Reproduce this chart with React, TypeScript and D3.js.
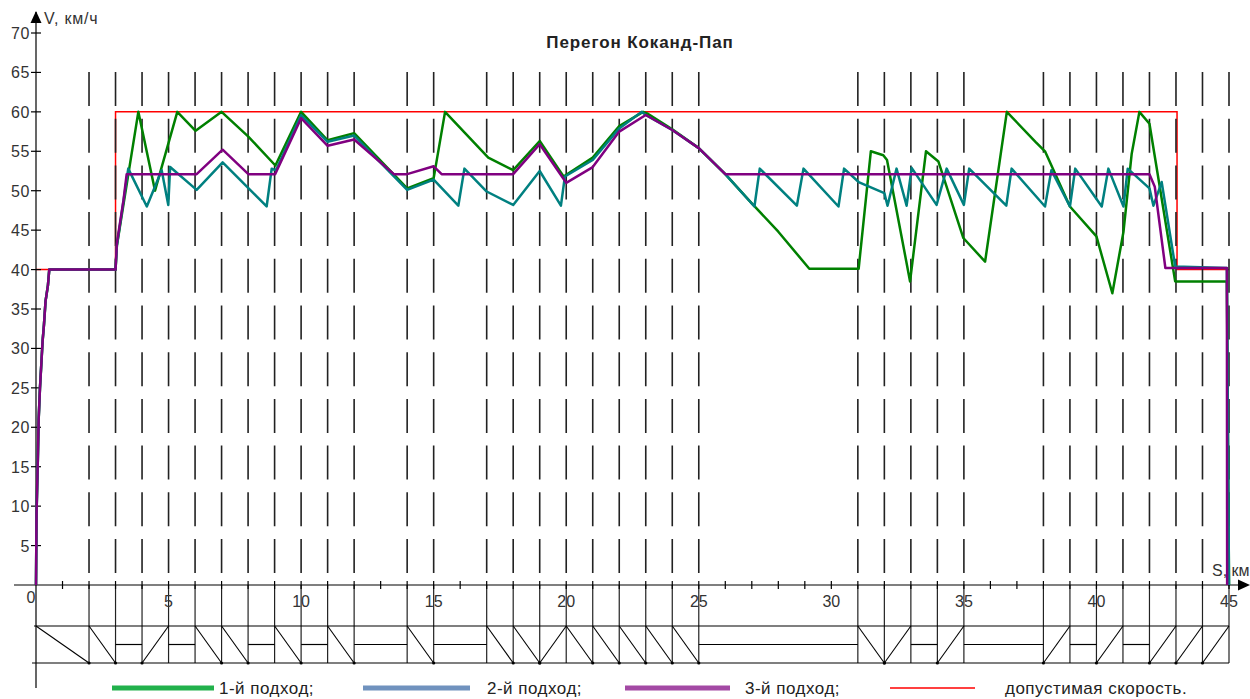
import React from 'react';
import * as d3 from 'd3';

const W = 1250;
const H = 699;
const FONT = '"Liberation Sans", Arial, sans-serif';

// границы блок-участков (км)
const signalKm = [2, 3, 4, 5, 6, 7, 8, 9, 10, 11, 12, 14, 15, 17, 18, 19, 20, 21, 22, 23, 24, 25,
  31, 32, 33, 34, 35, 38, 39, 40, 41, 42, 43, 44, 45];

// профиль пути: от, до, тип (down / up / flat)
const profile: [number, number, string][] = [
  [0, 2, 'down'], [2, 3, 'down'], [3, 4, 'flat'], [4, 5, 'up'], [5, 6, 'flat'], [6, 7, 'down'],
  [7, 8, 'down'], [8, 9, 'flat'], [9, 10, 'down'], [10, 11, 'flat'], [11, 12, 'down'], [12, 14, 'flat'],
  [14, 15, 'down'], [15, 17, 'flat'], [17, 18, 'down'], [18, 19, 'down'], [19, 20, 'up'], [20, 21, 'down'],
  [21, 22, 'down'], [22, 23, 'down'], [23, 24, 'down'], [24, 25, 'down'], [25, 31, 'flat'], [31, 32, 'down'],
  [32, 33, 'up'], [33, 34, 'flat'], [34, 35, 'up'], [35, 38, 'flat'], [38, 39, 'up'], [39, 40, 'flat'],
  [40, 41, 'up'], [41, 42, 'flat'], [42, 43, 'up'], [43, 44, 'up'], [44, 45, 'up'],
];

const speedLimit: [number, number][] = [
  [0, 40], [3, 40], [3, 60], [43.04, 60], [43.04, 40], [45, 40],
];

const approach1: [number, number][] = [
  [0, 0], [0.02, 9], [0.07, 16], [0.1, 21], [0.15, 25], [0.2, 28], [0.25, 31], [0.3, 33], [0.36, 36],
  [0.45, 38], [0.5, 40], [3.0, 40], [3.05, 43], [3.86, 60], [4.49, 50], [5.33, 60], [6.02, 57.6],
  [7.0, 60], [8.0, 56.9], [9.03, 53.2], [10.0, 60], [11.0, 56.4], [12.0, 57.3], [14.0, 50.3],
  [15.0, 51.6], [15.43, 60], [17.06, 54.2], [18.0, 52.6], [19.0, 56.3], [19.9, 51.8], [21.0, 54.2],
  [22.0, 58.2], [22.9, 60], [23.05, 59.8], [24.0, 57.8], [25.0, 55.4], [26.0, 52.1], [27.0, 48.4],
  [28.0, 44.8], [29.17, 40.1], [31.03, 40.1], [31.49, 55], [31.96, 54.5], [32.1, 53.9], [32.97, 38.5],
  [33.57, 55], [34.04, 53.7], [34.98, 44], [35.8, 41], [36.62, 60], [37.7, 56.2], [38.06, 55],
  [39.0, 48], [40.0, 44.2], [40.6, 37], [41.02, 44.8], [41.33, 54.7], [41.62, 60], [42.0, 58.5],
  [42.97, 38.5], [44.92, 38.5], [45.0, 0],
];

const approach2: [number, number][] = [
  [0, 0], [0.02, 9], [0.07, 16], [0.1, 21], [0.15, 25], [0.2, 28], [0.25, 31], [0.3, 33], [0.36, 36],
  [0.45, 38], [0.5, 40], [3.0, 40], [3.05, 43], [3.48, 52.8], [4.18, 48.0], [4.74, 52.6], [4.99, 48.2],
  [5.06, 53.0], [6.06, 50.1], [7.04, 53.6], [8.7, 48.0], [8.89, 52.8], [9.05, 52.6], [10.0, 59.6],
  [11.0, 56.2], [12.0, 57.0], [14.0, 50.1], [15.0, 51.4], [15.93, 48.1], [16.16, 52.8], [17.0, 49.9],
  [18.0, 48.2], [19.0, 52.5], [19.8, 48.1], [19.95, 51.8], [21.0, 53.9], [22.0, 57.9], [22.85, 60.0],
  [23.0, 59.6], [24.0, 57.7], [25.0, 55.4], [26.0, 52.1], [27.1, 48.0], [27.3, 52.8], [28.7, 48.1],
  [28.95, 52.8], [30.27, 48.0], [30.48, 52.8], [31.03, 51.1], [32.0, 49.7], [32.12, 48.1], [32.46, 52.8],
  [32.84, 48.1], [33.03, 52.9], [33.97, 48.2], [34.35, 52.8], [35.0, 48.2], [35.2, 52.8], [36.6, 48.1],
  [36.8, 52.8], [38.06, 48.0], [38.3, 52.6], [39.0, 48.0], [39.2, 52.8], [40.2, 48.0], [40.45, 52.8],
  [41.02, 48.0], [41.18, 52.8], [42.0, 50.3], [42.15, 48.1], [42.46, 51.1], [42.97, 40.4],
  [44.92, 40.2], [45.0, 0],
];

const approach3: [number, number][] = [
  [0, 0], [0.02, 9], [0.07, 16], [0.1, 21], [0.15, 25], [0.2, 28], [0.25, 31], [0.3, 33], [0.36, 36],
  [0.45, 38], [0.5, 40], [3.0, 40], [3.05, 43.3], [3.3, 48.8], [3.42, 52.1], [6.06, 52.1], [7.04, 55.2],
  [8.01, 52.1], [9.02, 52.1], [10.0, 59.2], [11.0, 55.7], [12.0, 56.5], [13.5, 52.1], [14.0, 52.1],
  [15.0, 53.1], [15.3, 52.1], [18.0, 52.1], [19.0, 55.9], [20.0, 51.0], [21.0, 53.0], [22.0, 57.5],
  [23.0, 59.6], [24.0, 57.7], [25.0, 55.4], [26.0, 52.1], [42.0, 52.1], [42.2, 50.5], [42.6, 40.2],
  [44.92, 40.2], [44.93, 0],
];

const yTicks = d3.range(5, 75, 5);
const xLabels = d3.range(0, 50, 5);
const kmTicks = d3.range(1, 46);

const legendItems = [
  { label: '1-й подход;', color: '#22b14c', width: 5, x0: 112, x1: 214, tx: 219 },
  { label: '2-й подход;', color: '#7092be', width: 5, x0: 363, x1: 470, tx: 487 },
  { label: '3-й подход;', color: '#a349a4', width: 5, x0: 625, x1: 730, tx: 745 },
  { label: 'допустимая скорость.', color: '#ff0000', width: 1.5, x0: 890, x1: 975, tx: 1005 },
];

export default function App() {
  const x = d3.scaleLinear().domain([0, 45]).range([36, 1229]);
  const y = d3.scaleLinear().domain([0, 70]).range([585, 33]);
  const line = d3.line<[number, number]>().x(d => x(d[0])).y(d => y(d[1]));

  const axisY = y(0);
  const stripTop = 626;
  const stripBot = 663;
  const stripMid = (stripTop + stripBot) / 2;

  return (
    <svg width={W} height={H} style={{ position: 'absolute', left: 0, top: 0, background: '#fff' }}
      fontFamily={FONT}>
      <rect width={W} height={H} fill="#fff" />

      {/* title */}
      <text x={640} y={48} textAnchor="middle" fontSize={17} fontWeight="bold" letterSpacing={0.9} fill="#222">
        Перегон Коканд-Пап
      </text>

      {/* speed limit */}
      <path d={line(speedLimit) ?? ''} fill="none" stroke="#ff0000" strokeWidth={1.5} />

      {/* block sections */}
      {signalKm.map(k => (
        <g key={k}>
          <line x1={x(k)} x2={x(k)} y1={72} y2={axisY} stroke="#222" strokeWidth={1.6}
            strokeDasharray="34,12.7" />
          <line x1={x(k)} x2={x(k)} y1={axisY} y2={stripBot} stroke="#222" strokeWidth={1.2} />
        </g>
      ))}

      {/* axes */}
      <line x1={36} x2={36} y1={12} y2={688} stroke="#000" strokeWidth={1.2} />
      <path d="M36,11 L30.5,23 L41.5,23 Z" fill="#000" />
      <text x={44} y={24} fontSize={16} letterSpacing={0.8} fill="#333">V, км/ч</text>
      <line x1={14} x2={1240} y1={axisY} y2={axisY} stroke="#000" strokeWidth={1.2} />
      <path d="M1250,585 L1238,579.5 L1238,590.5 Z" fill="#000" />
      <text x={1212} y={576} fontSize={16} fill="#333">S, км</text>

      {yTicks.map(t => (
        <g key={t}>
          <line x1={31} x2={41} y1={y(t)} y2={y(t)} stroke="#000" strokeWidth={1.2} />
          <text x={30} y={y(t) + 6} textAnchor="end" fontSize={16} letterSpacing={0.6} fill="#333">{t}</text>
        </g>
      ))}
      {kmTicks.map(k => (
        <line key={k} x1={x(k)} x2={x(k)} y1={axisY - 4} y2={axisY + 4} stroke="#000" strokeWidth={1.2} />
      ))}
      {xLabels.map(k => (
        <text key={k} x={k === 0 ? x(k) - 5 : x(k)} y={k === 0 ? 603 : 607} textAnchor="middle"
          fontSize={16} fill="#333">{k}</text>
      ))}

      {/* track profile */}
      <line x1={34} x2={x(45)} y1={stripTop} y2={stripTop} stroke="#000" strokeWidth={1.2} />
      <line x1={32} x2={x(45)} y1={stripBot} y2={stripBot} stroke="#000" strokeWidth={1.2} />
      {profile.map(([a, b, kind]) => {
        const xa = x(a);
        const xb = x(b);
        if (kind === 'flat') {
          return <line key={a} x1={xa} x2={xb} y1={stripMid} y2={stripMid} stroke="#000" strokeWidth={1.2} />;
        }
        const yA = kind === 'down' ? stripTop : stripBot;
        const yB = kind === 'down' ? stripBot : stripTop;
        return (
          <g key={a}>
            <line x1={xa} x2={xb} y1={yA} y2={yB} stroke="#000" strokeWidth={1.1} />
            <circle cx={kind === 'down' ? xb : xa} cy={stripBot} r={1.6} fill="#000" />
          </g>
        );
      })}

      {/* speed curves */}
      <path d={line(approach1) ?? ''} fill="none" stroke="#008000" strokeWidth={2.5} strokeLinejoin="round" />
      <path d={line(approach2) ?? ''} fill="none" stroke="#008080" strokeWidth={2.5} strokeLinejoin="round" />
      <path d={line(approach3) ?? ''} fill="none" stroke="#800080" strokeWidth={2.5} strokeLinejoin="round" />

      {/* legend */}
      {legendItems.map(it => (
        <g key={it.label}>
          <line x1={it.x0} x2={it.x1} y1={688} y2={688} stroke={it.color} strokeWidth={it.width} />
          <text x={it.tx} y={694} fontSize={17} letterSpacing={0.5} fill="#222">{it.label}</text>
        </g>
      ))}
    </svg>
  );
}
